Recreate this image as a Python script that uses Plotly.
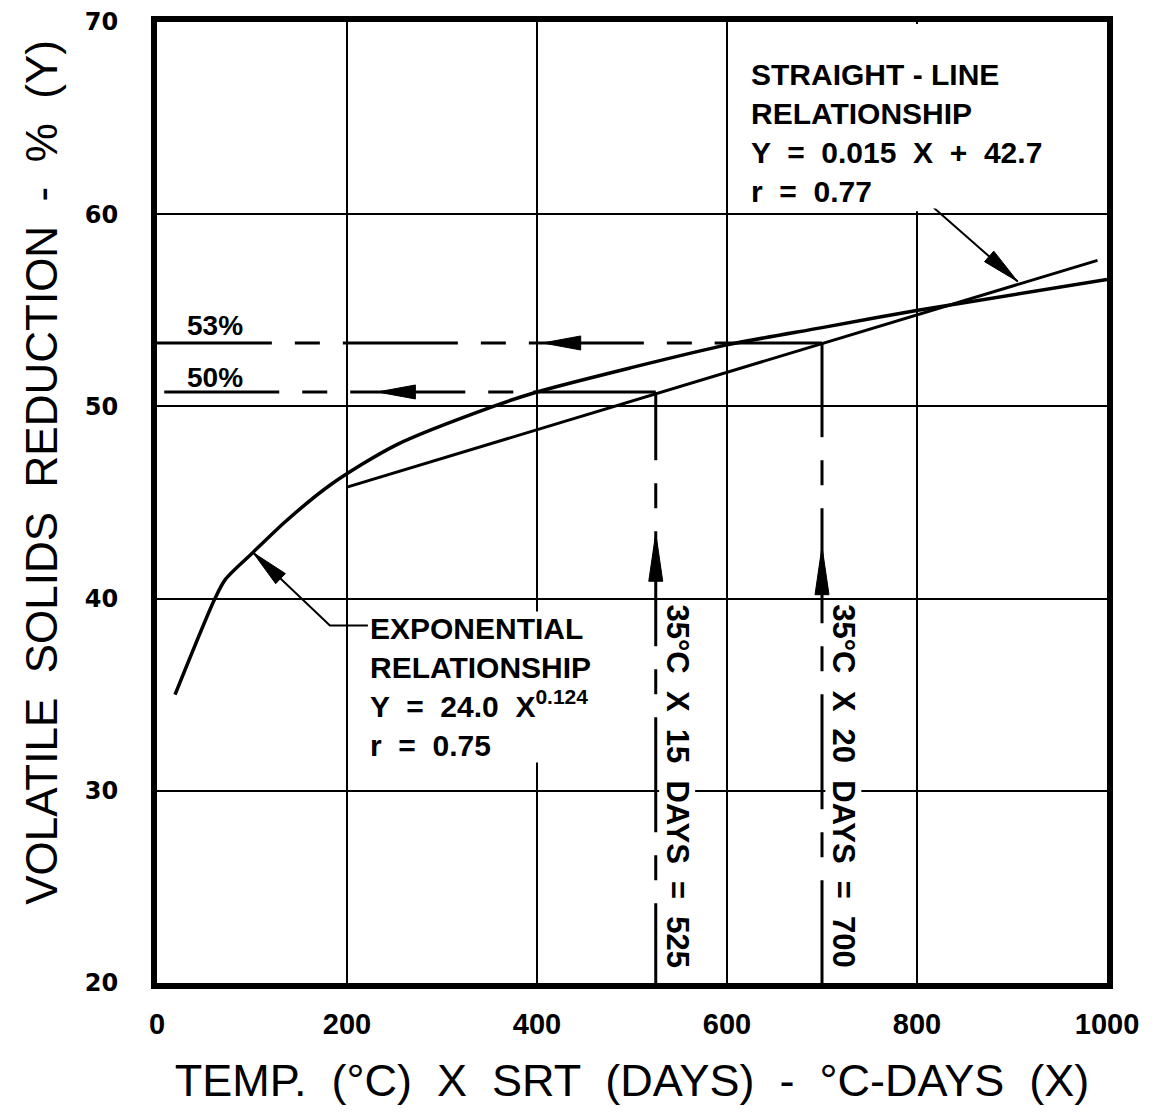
import math
import plotly.graph_objects as go

# ---------------- data ----------------
EXP_X = [19, 61, 72, 101, 135, 182, 252, 354, 400, 498, 600, 700, 801, 1000]
EXP_Y = [35.0, 40.0, 41.0, 42.4, 44.0, 45.9, 48.0, 50.0, 50.75, 52.0, 53.2, 54.1, 55.0, 56.6]

LIN_X = [200, 990]
LIN_Y = [45.8, 57.6]

H_LEVEL = [53.3, 50.75]
H_LABELS = ["53%", "50%"]
H_LABEL_Y = [54.23, 51.48]
H_RIGHT_X = [700, 525]
H_SOLID_LEFT_X = [587, 396]
H_DASH_START_X = [563, 375]
H_ARROW_TIP_X = [406, 232]
H_ARROW_TAIL_X = [446, 269]

V_X = [700, 525]
V_SOLID_BOTTOM_Y = [48.4, 47.2]
V_DASH_START_Y = [47.2, 46.0]
V_ARROW_TIP_Y = [42.7, 43.4]
V_ARROW_TAIL_Y = [40.4, 40.8]
V_TEXTS = ["35°C X 20 DAYS = 700", "35°C X 15 DAYS = 525"]
V_TEXT_X = [723, 548]
V_TEXT_TOP_Y = [39.77, 39.77]

STR_LEADER_X = [770, 800, 906]
STR_LEADER_Y = [61.1, 61.1, 56.5]
EXP_LEADER_X = [222, 182, 101]
EXP_LEADER_Y = [38.6, 38.6, 42.4]

X_TICKS = [0, 200, 400, 600, 800, 1000]
Y_TICKS = [20, 30, 40, 50, 60, 70]

X_TITLE = "TEMP. (°C) X SRT (DAYS) - °C-DAYS (X)"
Y_TITLE = "VOLATILE SOLIDS REDUCTION - % (Y)"

# ---------------- layout geometry ----------------
# (the page body adds an 8px margin, so the figure is offset accordingly)
W, H = 1134, 1098
ML, MR, MT, MB = 149, 35, 14, 123
XR = [0, 1000]
YR = [20, 70]
PXX = (W - ML - MR) / (XR[1] - XR[0])
PXY = (H - MT - MB) / (YR[1] - YR[0])

BLACK = "black"
DASH = "25px,23px,115px,23px"
NB = "\u00a0"


def sp(s):
    return s.replace(" ", " " + NB)


def head(tip_x, tip_y, tail_x, tail_y, length=40, hw=7):
    vx = (tip_x - tail_x) * PXX
    vy = (tip_y - tail_y) * PXY
    n = math.hypot(vx, vy)
    ux, uy = vx / n, vy / n
    bx = tip_x - length * ux / PXX
    by = tip_y - length * uy / PXY
    px, py = -uy, ux
    xs = [tip_x, bx + hw * px / PXX, bx - hw * px / PXX, tip_x]
    ys = [tip_y, by + hw * py / PXY, by - hw * py / PXY, tip_y]
    return go.Scatter(x=xs, y=ys, mode="lines", fill="toself", fillcolor=BLACK,
                      line=dict(color=BLACK, width=1), hoverinfo="skip", showlegend=False)


fig = go.Figure()

# curves
fig.add_trace(go.Scatter(x=EXP_X, y=EXP_Y, mode="lines",
                         line=dict(color=BLACK, width=3.5, shape="spline", smoothing=0.8),
                         name="Exponential", showlegend=False))
fig.add_trace(go.Scatter(x=LIN_X, y=LIN_Y, mode="lines", line=dict(color=BLACK, width=3),
                         name="Straight line", showlegend=False))

# horizontal guide lines
for i in range(len(H_LEVEL)):
    fig.add_trace(go.Scatter(x=[H_RIGHT_X[i], H_SOLID_LEFT_X[i]], y=[H_LEVEL[i], H_LEVEL[i]],
                             mode="lines", line=dict(color=BLACK, width=3), showlegend=False, hoverinfo="skip"))
    fig.add_trace(go.Scatter(x=[H_DASH_START_X[i], XR[0]], y=[H_LEVEL[i], H_LEVEL[i]],
                             mode="lines", line=dict(color=BLACK, width=3, dash=DASH),
                             showlegend=False, hoverinfo="skip"))
    fig.add_trace(head(H_ARROW_TIP_X[i], H_LEVEL[i], H_ARROW_TAIL_X[i], H_LEVEL[i], length=38, hw=7))

# vertical guide lines
for i in range(len(V_X)):
    fig.add_trace(go.Scatter(x=[V_X[i], V_X[i]], y=[H_LEVEL[i], V_SOLID_BOTTOM_Y[i]],
                             mode="lines", line=dict(color=BLACK, width=3), showlegend=False, hoverinfo="skip"))
    fig.add_trace(go.Scatter(x=[V_X[i], V_X[i]], y=[V_DASH_START_Y[i], YR[0]],
                             mode="lines", line=dict(color=BLACK, width=3, dash=DASH),
                             showlegend=False, hoverinfo="skip"))
    fig.add_trace(head(V_X[i], V_ARROW_TIP_Y[i], V_X[i], V_ARROW_TAIL_Y[i], length=48, hw=7))

# leaders
fig.add_trace(go.Scatter(x=STR_LEADER_X, y=STR_LEADER_Y, mode="lines", line=dict(color=BLACK, width=2),
                         showlegend=False, hoverinfo="skip"))
fig.add_trace(head(STR_LEADER_X[-1], STR_LEADER_Y[-1], STR_LEADER_X[-2], STR_LEADER_Y[-2], length=38, hw=7))
fig.add_trace(go.Scatter(x=EXP_LEADER_X, y=EXP_LEADER_Y, mode="lines", line=dict(color=BLACK, width=2),
                         showlegend=False, hoverinfo="skip"))
fig.add_trace(head(EXP_LEADER_X[-1], EXP_LEADER_Y[-1], EXP_LEADER_X[-2], EXP_LEADER_Y[-2], length=38, hw=7))

TXT_FONT = dict(family="Liberation Sans, Arial, sans-serif", size=30, color=BLACK, weight=700)

fig.add_annotation(x=624, y=64.2, xref="x", yref="y", xanchor="left", yanchor="middle", align="left",
                   showarrow=False, bgcolor="white", borderpad=0, font=TXT_FONT,
                   text="STRAIGHT - LINE<br>RELATIONSHIP<br>" + sp("Y = 0.015 X + 42.7") + "<br>" + sp("r = 0.77"))
fig.add_annotation(x=223, y=35.4, xref="x", yref="y", xanchor="left", yanchor="middle", align="left",
                   showarrow=False, bgcolor="white", borderpad=0, font=TXT_FONT,
                   text="EXPONENTIAL<br>RELATIONSHIP<br>" + sp("Y = 24.0 X") + "<sup>0.124</sup><br>" + sp("r = 0.75"))

for i in range(len(V_TEXTS)):
    fig.add_annotation(x=V_TEXT_X[i], y=V_TEXT_TOP_Y[i], xref="x", yref="y", xanchor="center", yanchor="top",
                       textangle=90, showarrow=False, bgcolor="white", borderpad=0,
                       font=dict(family="Liberation Sans, Arial, sans-serif", size=31, color=BLACK, weight=700),
                       text=sp(V_TEXTS[i]))

for i in range(len(H_LABELS)):
    fig.add_annotation(x=61, y=H_LABEL_Y[i], xref="x", yref="y", showarrow=False,
                       font=dict(family="Liberation Sans, Arial, sans-serif", size=28, color=BLACK, weight=700),
                       text=H_LABELS[i])

# white cover so the 800 gridline stops at 60 (behind the label)
fig.add_shape(type="rect", xref="x", yref="y", x0=625, x1=995, y0=60.15, y1=69.9,
              fillcolor="white", line=dict(width=0), layer="between")

AX_TITLE_FONT = dict(family="Liberation Sans, Arial, sans-serif", size=45, color=BLACK)

# y-axis title (placed as a rotated annotation, slightly above the axis centre as in the original)
fig.add_annotation(xref="paper", yref="paper", x=-0.121, y=0.531, xanchor="center", yanchor="middle",
                   textangle=-90, showarrow=False, text=sp(Y_TITLE),
                   font=dict(family="Liberation Sans, Arial, sans-serif", size=44, color=BLACK))

fig.update_xaxes(range=XR, tickvals=X_TICKS, ticks="", ticklabelstandoff=10,
                 tickfont=dict(family="Liberation Sans, Arial, sans-serif", size=29, color=BLACK, weight=700),
                 showgrid=True, gridcolor=BLACK, gridwidth=2, zeroline=False,
                 showline=True, linecolor=BLACK, linewidth=6, mirror=True,
                 title=dict(text=sp(X_TITLE), font=AX_TITLE_FONT, standoff=30))
fig.update_yaxes(range=YR, tickvals=Y_TICKS, ticks="", ticklabelstandoff=28,
                 tickfont=dict(family="DejaVu Sans, sans-serif", size=24, color=BLACK, weight=700),
                 showgrid=True, gridcolor=BLACK, gridwidth=2, zeroline=False,
                 showline=True, linecolor=BLACK, linewidth=6, mirror=True)

fig.update_layout(width=W, height=H, margin=dict(l=ML, r=MR, t=MT, b=MB, autoexpand=False),
                  plot_bgcolor="white", paper_bgcolor="white", showlegend=False)

fig.write_html("out.html")
